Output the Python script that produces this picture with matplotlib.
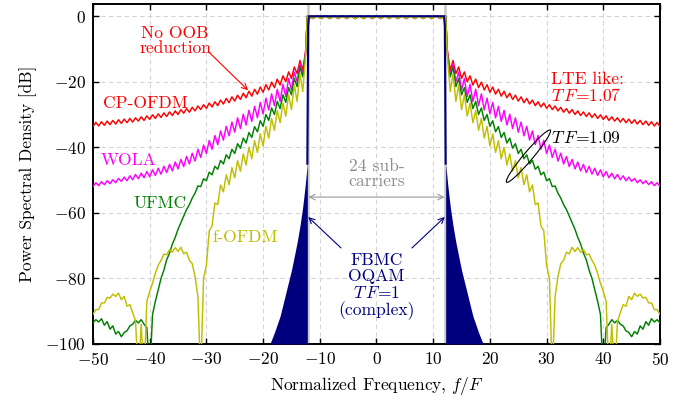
import numpy as np
import matplotlib

matplotlib.use("Agg")
import matplotlib.pyplot as plt
from matplotlib.patches import Ellipse
from matplotlib.transforms import ScaledTranslation

# LaTeX-like look
plt.rcParams["font.family"] = ["cmr10", "DejaVu Serif"]
plt.rcParams["mathtext.fontset"] = "cm"
plt.rcParams["axes.formatter.use_mathtext"] = True
plt.rcParams["axes.unicode_minus"] = True

# ---- data (spectrum is symmetric around 0) ----
# troughs at |f| = 13..50, peaks half a subcarrier closer to the band
OOB_D = np.arange(13, 51)
PASS_EDGE = 12.2

# in-band ripple (same for the four OFDM-type curves)
PASS_F = np.arange(-12.0, 12.01, 0.75)
PASS_DB = [0.0, -0.7, 0.1, -0.7, 0.1, -0.7, 0.1, -0.7, 0.1, -0.7, 0.1,
           -0.7, 0.1, -0.7, 0.1, -0.7, 0.1, -0.7, 0.1, -0.7, 0.1, -0.7,
           0.1, -0.7, 0.1, -0.7, 0.1, -0.7, 0.1, -0.7, 0.1, -0.7, 0.0]

CP_PEAKS = [-10.5, -13.5, -15.5, -17.0, -18.2, -19.2, -20.1, -20.9, -21.6, -22.3,
            -22.9, -23.5, -24.1, -24.6, -25.1, -25.6, -26.1, -26.5, -27.0, -27.4,
            -27.8, -28.2, -28.5, -28.9, -29.2, -29.5, -29.8, -30.1, -30.4, -30.7,
            -31.0, -31.2, -31.4, -31.6, -31.8, -32.0, -32.2, -32.4]
CP_TROUGHS = [-16.5, -17.5, -19.0, -20.0, -21.0, -21.8, -22.5, -23.2, -23.8, -24.4,
              -24.9, -25.4, -25.9, -26.4, -26.8, -27.3, -27.7, -28.1, -28.5, -28.9,
              -29.3, -29.6, -30.0, -30.3, -30.6, -30.9, -31.2, -31.5, -31.8, -32.0,
              -32.3, -32.5, -32.7, -32.9, -33.1, -33.3, -33.5, -33.7]

WOLA_PEAKS = [-11.0, -14.5, -17.0, -19.0, -20.8, -22.3, -23.7, -25.0, -26.3, -27.5,
              -28.7, -29.9, -31.0, -32.3, -33.6, -35.0, -36.4, -37.9, -39.3, -40.6,
              -41.8, -42.8, -43.7, -44.5, -45.2, -45.8, -46.4, -46.9, -47.4, -47.9,
              -48.3, -48.7, -49.1, -49.5, -49.9, -50.2, -50.5, -50.8]
WOLA_TROUGHS = [-18.0, -20.0, -22.5, -24.5, -26.0, -27.3, -28.6, -29.8, -31.0, -32.1,
                -33.2, -34.3, -35.4, -36.5, -37.8, -39.2, -40.6, -41.9, -43.1, -44.2,
                -45.1, -45.9, -46.6, -47.2, -47.7, -48.2, -48.6, -49.0, -49.3, -49.6,
                -49.9, -50.2, -50.4, -50.8, -51.1, -51.4, -51.7, -52.0]

UFMC_PEAKS = [-11.5, -15.5, -19.0, -21.8, -24.0, -26.0, -28.0, -30.0, -31.9, -33.7,
              -35.5, -37.2, -38.9, -40.6, -42.3, -44.0, -45.8, -47.6, -49.6, -51.8,
              -55.5, -59.0, -63.0, -67.5, -72.3, -77.5, -83.5, -91.0, -95.0, -92.6,
              -92.8, -94.5, -96.5, -96.2, -94.5, -93.2, -92.3, -92.6]
UFMC_TROUGHS = [-18.5, -21.5, -24.0, -26.3, -28.2, -30.0, -31.8, -33.6, -35.3, -37.0,
                -38.7, -40.3, -41.9, -43.5, -45.1, -46.7, -48.4, -50.2, -52.0, -54.0,
                -57.5, -61.0, -65.0, -69.5, -74.3, -80.0, -87.0, -110.0, -94.0, -93.6,
                -94.0, -96.0, -97.8, -97.0, -95.5, -94.3, -93.3, -93.6]

FOFDM_PEAKS = [-12.0, -17.5, -21.0, -24.0, -26.5, -28.8, -31.2, -33.6, -35.9, -38.0,
               -40.0, -42.0, -44.1, -46.2, -48.4, -51.5, -57.0, -65.5, -80.0, -85.5,
               -75.5, -72.0, -70.5, -70.6, -71.2, -72.6, -76.0, -81.5, -87.0, -94.0,
               -93.0, -88.0, -85.5, -84.5, -84.8, -85.8, -87.5, -89.5]
FOFDM_TROUGHS = [-23.0, -26.0, -28.5, -30.5, -32.5, -34.8, -37.2, -39.6, -41.6, -43.5,
                 -45.4, -47.3, -49.3, -51.4, -53.6, -57.5, -64.0, -76.0, -110.0, -79.5,
                 -74.5, -72.5, -71.8, -72.0, -72.8, -74.5, -78.5, -84.0, -110.0, -110.0,
                 -90.5, -88.5, -86.5, -85.5, -86.0, -87.5, -89.5, -91.0]

# FBMC-OQAM: envelope of the (very dense) side lobes
FBMC_D = [12.2, 12.6, 13.0, 13.5, 14.0, 14.7, 15.0, 16.0, 17.0, 18.0, 18.8]
FBMC_ENV = [-45, -52, -58, -64, -69, -75, -77.5, -84.5, -91.5, -96.5, -100]
FBMC_EDGE_D = [11.9, 12.05, 12.2]
FBMC_EDGE_DB = [0, -3, -45]

SERIES = [
    ("CP-OFDM", CP_PEAKS, CP_TROUGHS, "#ff0000"),
    ("WOLA", WOLA_PEAKS, WOLA_TROUGHS, "#ff00ff"),
    ("UFMC", UFMC_PEAKS, UFMC_TROUGHS, "#008000"),
    ("f-OFDM", FOFDM_PEAKS, FOFDM_TROUGHS, "#bfbf00"),
]


def full_spectrum(peaks, troughs):
    """mirror the one-sided peak/trough lists into a two-sided line"""
    d = np.column_stack([OOB_D - 0.5, OOB_D]).ravel()
    v = np.column_stack([peaks, troughs]).ravel()
    x = np.concatenate([-d[::-1], [-PASS_EDGE], PASS_F, [PASS_EDGE], d])
    y = np.concatenate([v[::-1], [0], PASS_DB, [0], v])
    return x, y


fig = plt.figure(figsize=(6.94, 4.07), dpi=100)
ax = fig.add_axes([0.134, 0.155, 0.817, 0.835])

for name, pk, tr, col in SERIES:
    x, y = full_spectrum(pk, tr)
    ax.plot(x, y, color=col, lw=1.05, zorder=3)

# FBMC
navy = "#00007f"
fd = np.array(FBMC_D)
for s in (-1, 1):
    ax.fill_between(s * fd, -100, FBMC_ENV, color=navy, lw=0, zorder=4)
ed = np.array(FBMC_EDGE_D)
ax.plot(np.concatenate([-ed[::-1], ed]),
        np.concatenate([FBMC_EDGE_DB[::-1], FBMC_EDGE_DB]),
        color=navy, lw=1.5, zorder=5)

# band edges
for xv in (-12, 12):
    ax.axvline(xv, color="#c8c8c8", lw=1.8, zorder=2)

ax.set_xlim(-50, 50)
ax.set_ylim(-100, 3.7)
ax.set_xticks(range(-50, 51, 10))
ax.set_yticks(range(-100, 1, 20))
ax.tick_params(direction="in", top=True, right=True, length=4, width=1,
               labelsize=12.5, pad=5)
ax.grid(True, color="#d4d4d4", ls=(0, (4, 3)), lw=0.8, zorder=0)
for sp in ax.spines.values():
    sp.set_linewidth(1.4)
ax.set_xlabel("Normalized Frequency, $f/F$", fontsize=12.5, labelpad=5)
ax.set_ylabel("Power Spectral Density [dB]", fontsize=12.5, labelpad=6)

# labels
fs = 12.6
ax.text(-40.8, -26.5, "CP-OFDM", color="#ff0000", fontsize=fs, ha="center", va="center")
ax.text(-43.8, -44.0, "WOLA", color="#ff00ff", fontsize=fs, ha="center", va="center")
ax.text(-38.2, -57.0, "UFMC", color="#008000", fontsize=fs, ha="center", va="center")
ax.text(-23.2, -67.4, "f-OFDM", color="#bfbf00", fontsize=fs, ha="center", va="center")

ax.text(-35.5, -7.5, "No OOB\nreduction", color="#ff0000", fontsize=fs,
        ha="center", va="center", linespacing=1.0)
ax.annotate("", xy=(-22.3, -23.2), xytext=(-29.9, -10.4),
            arrowprops=dict(arrowstyle="->", color="#ff0000", lw=0.8))

ax.text(30.8, -22.0, "LTE like:\n$T\\,F$=1.07", color="#ff0000", fontsize=fs,
        ha="left", va="center", linespacing=1.0)
ax.text(30.8, -37.3, "$T\\,F$=1.09", color="black", fontsize=fs,
        ha="left", va="center")
trans = fig.dpi_scale_trans + ScaledTranslation(26.8, -42.7, ax.transData)
ax.add_patch(Ellipse((0, 0), width=0.68, height=0.09, angle=50, fill=False,
                     edgecolor="black", lw=0.8, transform=trans, zorder=6))

ax.text(0, -48.2, "24 sub-\ncarriers", color="#8c8c8c", fontsize=fs,
        ha="center", va="center", linespacing=1.0)
ax.annotate("", xy=(-12, -55.2), xytext=(12, -55.2),
            arrowprops=dict(arrowstyle="<->", color="#9a9a9a", lw=0.8,
                            shrinkA=0, shrinkB=0))

ax.text(0, -82.5, "FBMC\nOQAM\n$T\\,F$=1\n(complex)", color=navy, fontsize=fs,
        ha="center", va="center", linespacing=1.05)
for s in (-1, 1):
    ax.annotate("", xy=(s * 12.4, -60.7), xytext=(s * 5.9, -71.3),
                arrowprops=dict(arrowstyle="->", color=navy, lw=0.8))

fig.savefig("out.png", dpi=100)
